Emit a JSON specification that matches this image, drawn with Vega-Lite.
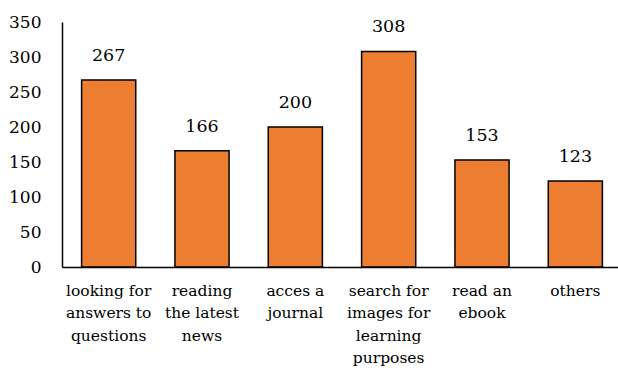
{
  "$schema": "https://vega.github.io/schema/vega-lite/v6.json",
  "width": 560,
  "height": 245,
  "autosize": "none",
  "padding": {"left": 62, "top": 22, "right": 0, "bottom": 105},
  "background": "white",
  "config": {
    "view": {"stroke": null},
    "font": "DejaVu Serif"
  },
  "data": {
    "values": [
      {"purpose": "looking for|answers to|questions", "count": 267},
      {"purpose": "reading|the latest|news", "count": 166},
      {"purpose": "acces a|journal", "count": 200},
      {"purpose": "search for|images for|learning|purposes", "count": 308},
      {"purpose": "read an|ebook", "count": 153},
      {"purpose": "others", "count": 123}
    ]
  },
  "encoding": {
    "x": {
      "field": "purpose",
      "type": "nominal",
      "sort": null,
      "scale": {"paddingInner": 0.42, "paddingOuter": 0.21},
      "axis": {
        "title": null,
        "labelAngle": 0,
        "ticks": false,
        "domainColor": "#000000",
        "domainWidth": 1.5,
        "labelFont": "DejaVu Serif",
        "labelFontSize": 15.5,
        "labelColor": "#000000",
        "labelPadding": 16,
        "labelBaseline": "top",
        "labelLineHeight": 22.5,
        "labelExpr": "split(datum.value, '|')"
      }
    },
    "y": {
      "field": "count",
      "type": "quantitative",
      "scale": {"domain": [0, 350]},
      "axis": {
        "title": null,
        "values": [0, 50, 100, 150, 200, 250, 300, 350],
        "grid": false,
        "ticks": false,
        "domainColor": "#000000",
        "domainWidth": 1.5,
        "labelFont": "DejaVu Serif",
        "labelFontSize": 17,
        "labelColor": "#000000",
        "labelPadding": 21
      }
    }
  },
  "layer": [
    {
      "mark": {"type": "bar", "color": "#ED7D31", "stroke": "#000000", "strokeWidth": 1.5}
    },
    {
      "mark": {"type": "text", "baseline": "bottom", "dy": -15, "fontSize": 17.5, "font": "DejaVu Serif", "color": "#000000"},
      "encoding": {"text": {"field": "count", "type": "quantitative"}}
    }
  ]
}
